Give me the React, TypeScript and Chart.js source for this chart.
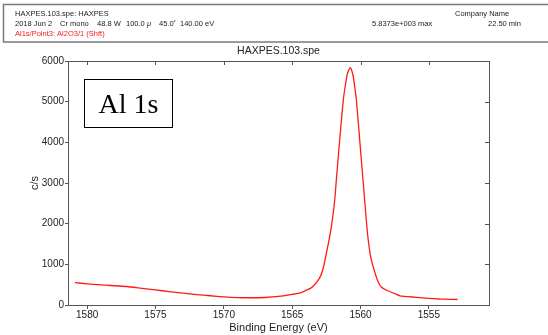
import React, { useEffect, useRef } from "react";
import { Chart, registerables } from "chart.js";

Chart.register(...registerables);

// Al 1s spectrum: binding energy (eV) and intensity (c/s)
const energies = [
  1580.9, 1580.0, 1579.0, 1578.3, 1577.1, 1576.0, 1575.0, 1574.0, 1573.0, 1572.0,
  1571.0, 1570.0, 1569.0, 1568.0, 1567.0, 1566.0, 1565.0, 1564.4, 1563.9, 1563.5,
  1563.0, 1562.75, 1562.5, 1562.3, 1562.1, 1561.9, 1561.75, 1561.5, 1561.26, 1561.14,
  1560.95, 1560.75, 1560.55, 1560.41, 1560.3, 1560.04, 1559.75, 1559.5, 1559.26, 1558.95,
  1558.7, 1558.46, 1558.2, 1557.8, 1557.4, 1557.1, 1556.5, 1555.9, 1555.0, 1554.2,
  1553.5, 1552.9,
];
const counts = [
  550, 520, 495, 480, 455, 410, 370, 330, 290, 255,
  228, 200, 182, 178, 185, 210, 262, 300, 370, 450,
  660, 880, 1270, 1600, 2000, 2540, 3150, 4150, 5040, 5330,
  5700, 5837, 5650, 5330, 5040, 3980, 2800, 1800, 1190, 800,
  560, 435, 380, 320, 265, 225, 205, 188, 165, 148,
  140, 135,
];

const xTicksStep = 5;
const yTicksStep = 1000;

const headerLine1 = "HAXPES.103.spe: HAXPES";
const headerLine2 = ["2018 Jun 2", "Cr mono", "48.8 W", "100.0", "μ", "45.0˚", "140.00 eV"];
const headerLine3 = "Al1s/Point3: Al2O3/1 (Shft)";
const companyName = "Company Name";
const maxText = "5.8373e+003 max";
const timeText = "22.50 min";
const chartTitle = "HAXPES.103.spe";
const peakLabel = "Al 1s";
const yTitle = "c/s";
const xTitle = "Binding Energy (eV)";

const SANS = "'Liberation Sans', Arial, sans-serif";

const decorations = {
  id: "decorations",
  afterDraw(chart: any) {
    const ctx = chart.ctx as CanvasRenderingContext2D;
    const { left, right, top, bottom } = chart.chartArea;
    const xs = chart.scales.x;
    const ys = chart.scales.y;
    ctx.save();

    // header panel
    ctx.strokeStyle = "#7a7a7a";
    ctx.lineWidth = 1.5;
    ctx.strokeRect(3.5, 4.5, 570, 37.5);
    ctx.font = `7.5px ${SANS}`;
    ctx.textBaseline = "middle";
    ctx.textAlign = "left";
    ctx.fillStyle = "#222";
    ctx.fillText(headerLine1, 15, 13.5);
    const l2x = [15, 60, 97, 126, 147, 159, 180];
    headerLine2.forEach((t, i) => {
      ctx.font = i === 4 ? `italic 7.5px ${SANS}` : `7.5px ${SANS}`;
      ctx.fillText(t, l2x[i], 24);
    });
    ctx.font = `7.5px ${SANS}`;
    ctx.fillText(companyName, 455, 13.5);
    ctx.fillText(maxText, 372, 24);
    ctx.fillText(timeText, 488, 24);
    ctx.fillStyle = "#ee2020";
    ctx.fillText(headerLine3, 15, 34);

    // chart title
    ctx.fillStyle = "#222";
    ctx.textAlign = "center";
    ctx.font = `10.5px ${SANS}`;
    ctx.fillText(chartTitle, (left + right) / 2, 51);

    // plot frame
    ctx.strokeStyle = "#555";
    ctx.lineWidth = 1;
    ctx.strokeRect(Math.round(left) + 0.5, Math.round(top) + 0.5, Math.round(right - left), Math.round(bottom - top));

    // inward ticks on top and right edges
    ctx.beginPath();
    xs.ticks.forEach((t: any) => {
      const px = Math.round(xs.getPixelForValue(t.value)) + 0.5;
      ctx.moveTo(px, top);
      ctx.lineTo(px, top + 4);
    });
    ys.ticks.forEach((t: any) => {
      const py = Math.round(ys.getPixelForValue(t.value)) + 0.5;
      ctx.moveTo(right, py);
      ctx.lineTo(right - 4, py);
    });
    ctx.stroke();

    // axis titles
    ctx.fillStyle = "#222";
    ctx.font = `11px ${SANS}`;
    ctx.textAlign = "center";
    ctx.fillText(xTitle, (left + right) / 2, 328);
    ctx.save();
    ctx.translate(35, (top + bottom) / 2);
    ctx.rotate(-Math.PI / 2);
    ctx.fillText(yTitle, 0, 0);
    ctx.restore();

    // peak label box
    ctx.strokeStyle = "#000";
    ctx.lineWidth = 1;
    ctx.strokeRect(84.5, 79.5, 88, 48);
    ctx.fillStyle = "#000";
    ctx.font = `28px 'Liberation Serif', 'Times New Roman', serif`;
    ctx.textAlign = "center";
    ctx.textBaseline = "alphabetic";
    ctx.fillText(peakLabel, 128.5, 113);

    ctx.restore();
  },
};

export default function App() {
  const ref = useRef<HTMLCanvasElement>(null);

  useEffect(() => {
    document.body.style.margin = "0";
    const canvas = ref.current;
    if (!canvas) return;
    const chart = new Chart(canvas, {
      type: "line",
      data: {
        datasets: [
          {
            data: energies.map((e, i) => ({ x: e, y: counts[i] })),
            borderColor: "#ff1a1a",
            borderWidth: 1.3,
            pointRadius: 0,
            tension: 0.2,
            fill: false,
          },
        ],
      },
      options: {
        animation: false,
        responsive: false,
        devicePixelRatio: 1,
        layout: { padding: { left: 0, right: 59, top: 61, bottom: 0 } },
        plugins: {
          legend: { display: false },
          tooltip: { enabled: false },
          title: { display: false },
        },
        scales: {
          x: {
            type: "linear",
            reverse: true,
            min: 1550.6,
            max: 1581.4,
            afterFit: (s: any) => {
              s.height = 30;
            },
            ticks: {
              stepSize: xTicksStep,
              includeBounds: false,
              color: "#222",
              font: { family: SANS, size: 10 },
              padding: 0,
              maxRotation: 0,
              callback: (v: any) => String(v),
            },
            grid: {
              drawOnChartArea: false,
              drawTicks: true,
              tickLength: 4,
              color: "#555",
            },
            border: { display: false },
          },
          y: {
            min: 0,
            max: 6000,
            afterFit: (s: any) => {
              s.width = 68;
            },
            ticks: {
              stepSize: yTicksStep,
              color: "#222",
              font: { family: SANS, size: 10 },
              padding: 1,
              callback: (v: any) => String(v),
            },
            grid: {
              drawOnChartArea: false,
              drawTicks: true,
              tickLength: 3,
              color: "#555",
            },
            border: { display: false },
          },
        },
      },
      plugins: [decorations],
    });
    return () => chart.destroy();
  }, []);

  return (
    <div style={{ position: "fixed", left: 0, top: 0, width: 548, height: 335, background: "#fff" }}>
      <canvas ref={ref} width={548} height={335} style={{ width: 548, height: 335, display: "block" }} />
    </div>
  );
}
